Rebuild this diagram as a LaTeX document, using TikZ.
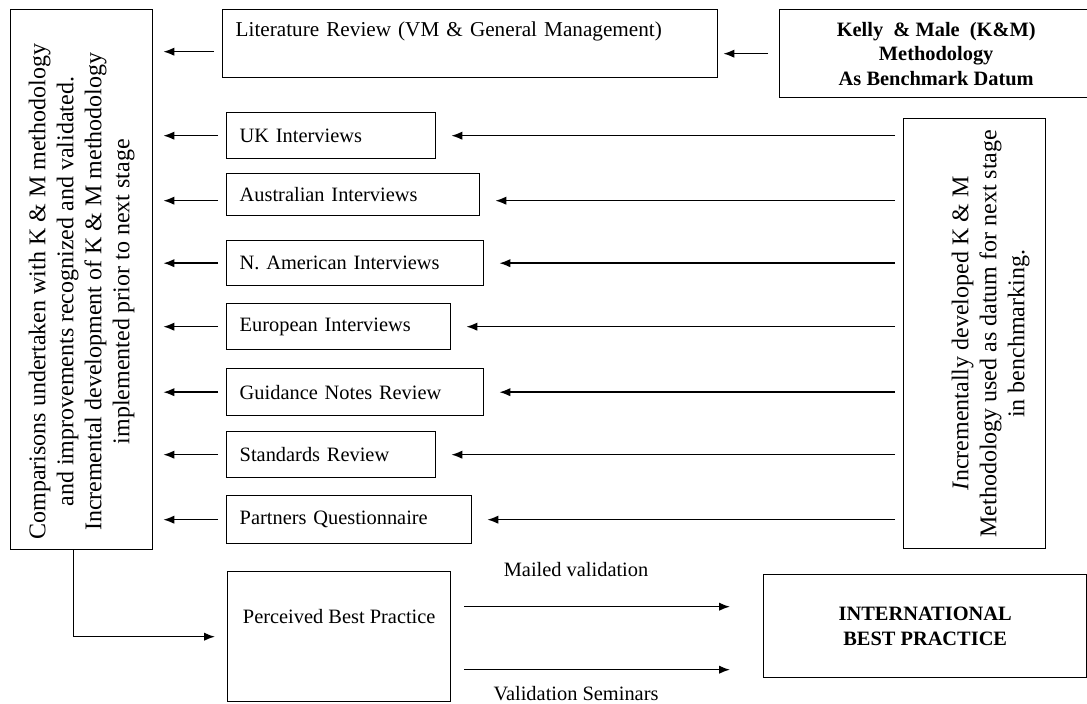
\documentclass[tikz,border=0pt]{standalone}
\usepackage{fontspec}
\setmainfont{Liberation Serif}
\usepackage{tikz}
\usetikzlibrary{arrows.meta}

\begin{document}
\begin{tikzpicture}[x=0.5pt,y=-0.5pt,line width=0.7pt,>={Latex[length=5.5pt,width=4.2pt]}]
    \tikzstyle{box}=[draw,rectangle,anchor=north west,inner sep=0pt,font=\fontsize{10.2}{12.2}\selectfont]
    \tikzstyle{stage box}=[box,inner xsep=6.5pt,align=left]
    \tikzstyle{side box}=[box,font=\fontsize{12}{14}\selectfont]
    \tikzstyle{bold box}=[box,align=center,font=\fontsize{10.2}{12.3}\selectfont\bfseries]
    \tikzstyle{arr}=[->,shorten <=4pt,shorten >=5pt]
    \tikzstyle{feed}=[->,shorten <=4pt,shorten >=7.5pt]
    \tikzstyle{annot}=[inner sep=0pt,font=\fontsize{10.2}{12.2}\selectfont]

    \useasboundingbox (0,0) rectangle (1087,704);

    % Comparison box, literature review and benchmark
    \node[side box,minimum width=71pt,minimum height=270pt] (comp) at (10,9) {\rotatebox{90}{\begin{tabular}{@{}c@{}}Comparisons undertaken with K \& M methodology\\and improvements recognized and validated.\\Incremental development of K \& M methodology\\implemented prior to next stage\end{tabular}\hspace*{12pt}}};
    \node[stage box,text width=234.5pt,text height=13.5pt,text depth=20.5pt,font=\fontsize{10.6}{13}\selectfont] (lit) at (222,9) {Literature Review (VM \& General Management)};
    \node[bold box,minimum width=156.5pt,minimum height=44pt] (kel) at (779,9) {Kelly \ \& Male \ (K\&M)\\Methodology\\As Benchmark Datum};

    % Stage boxes
    \node[stage box,text width=91.5pt,minimum height=23pt] (uk) at (226,112) {UK Interviews};
    \node[stage box,text width=113.5pt,minimum height=21pt] (aus) at (226,173) {Australian Interviews};
    \node[stage box,text width=115.5pt,minimum height=22.5pt] (nam) at (226,240) {N. American Interviews};
    \node[stage box,text width=99pt,minimum height=23pt] (eur) at (226,303) {European Interviews};
    \node[stage box,text width=115.5pt,minimum height=23.5pt] (gui) at (226,368) {Guidance Notes Review};
    \node[stage box,text width=91.5pt,minimum height=23pt] (std) at (226,431) {Standards Review};
    \node[stage box,text width=109.5pt,minimum height=24pt] (par) at (226,495) {Partners Questionnaire};

    % Developed datum box
    \node[side box,minimum width=71pt,minimum height=215pt] (rt) at (903,118) {\hspace*{16pt}\rotatebox{90}{\begin{tabular}{@{}c@{}}\textit{I}ncrementally developed K \& M\\Methodology used as datum for next stage\\in benchmarking.\end{tabular}}};

    % Outcome boxes
    \node[box,minimum width=111.5pt,text height=26pt,text depth=39pt] (pbp) at (227,571) {Perceived Best Practice};
    \node[bold box,minimum width=161.5pt,minimum height=51.5pt] (intl) at (763,574) {INTERNATIONAL\\BEST PRACTICE};

    % Arrows at the top
    \draw[->,shorten <=5.5pt,shorten >=2.5pt] (kel.west) -- (kel.west -| lit.east);
    \coordinate (lit-out) at ([yshift=-4pt]lit.west);
    \draw[arr] (lit-out) -- (lit-out -| comp.east);

    % Stage boxes feed the comparison box
    \coordinate (aus-w) at ([yshift=-3pt]aus.west);
    \coordinate (aus-e) at ([yshift=-3pt]aus.east);
    \path[arr] (uk.west) edge (uk.west -| comp.east);
    \path[arr] (aus-w) edge (aus-w -| comp.east);
    \path[arr] (nam.west) edge (nam.west -| comp.east);
    \path[arr] (eur.west) edge (eur.west -| comp.east);
    \path[arr] (gui.west) edge (gui.west -| comp.east);
    \path[arr] (std.west) edge (std.west -| comp.east);
    \path[arr] (par.west) edge (par.west -| comp.east);

    % Datum box feeds the stage boxes
    \path[feed] (rt.west |- uk.east) edge (uk.east);
    \path[feed] (rt.west |- aus-e) edge (aus-e);
    \path[feed] (rt.west |- nam.east) edge (nam.east);
    \path[feed] (rt.west |- eur.east) edge (eur.east);
    \path[feed] (rt.west |- gui.east) edge (gui.east);
    \path[feed] (rt.west |- std.east) edge (std.east);
    \path[feed] (rt.west |- par.east) edge (par.east);

    % Validation
    \draw[->,shorten >=6pt] ([xshift=-4pt]comp.south) |- (pbp.west);
    \coordinate (mail) at ([yshift=15pt]pbp.east);
    \coordinate (sem) at ([yshift=-16.5pt]pbp.east);
    \draw[->,shorten <=6.5pt,shorten >=16.5pt] (mail) -- (mail -| intl.west) node[annot,pos=0.4,above=14.5pt] {Mailed validation};
    \draw[->,shorten <=6.5pt,shorten >=16.5pt] (sem) -- (sem -| intl.west) node[annot,pos=0.4,below=8pt] {Validation Seminars};
\end{tikzpicture}
\end{document}
